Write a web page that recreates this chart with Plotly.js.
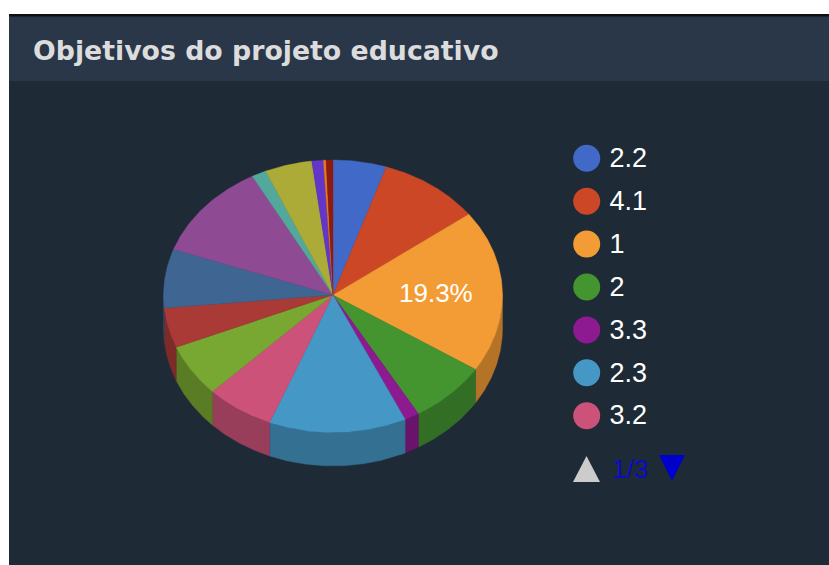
<!DOCTYPE html>
<html>
<head>
<meta charset="utf-8">
<script src="https://cdn.plot.ly/plotly-3.0.0.min.js"></script>
<style>html,body{margin:0;padding:0;background:#fff;overflow:hidden}#chart{width:829px;height:565px}</style>
</head>
<body>
<div id="chart"></div>
<script>
var chartTitle = "Objetivos do projeto educativo";
var sliceNames = ["2.2","4.1","1","2","3.3","2.3","3.2","s8","s9","s10","s11","s12","s13","s14","s15","s16"];
var sliceValues = [5.1,9.7,19.3,7.5,1.4,13.1,6.5,6.2,4.7,7.0,11.6,1.4,4.5,1.1,0.25,0.65];
var sliceColors = ["#4169c7","#cc4726","#f39c35","#449530","#8e1a92","#4598c5","#cd5279","#78a832","#a93a36","#3f6592","#8f4a94","#53a89c","#adab38","#6335c8","#e77a1f","#8e1a10"];
var legendLabels = ["2.2","4.1","1","2","3.3","2.3","3.2"];
var pageText = "1/3";

var cx = 333, cy = 295, rx = 169.5, ryBack = 135, ryFront = 137.5, depth = 33.5;
var total = sliceValues.reduce(function(a,b){return a+b;},0);

function px(t){return cx + rx*Math.sin(t*Math.PI/180);}
function py(t){var c=Math.cos(t*Math.PI/180);return cy - (c>0?ryBack:ryFront)*c;}
function arc(a,b){var o=[],n=Math.max(2,Math.ceil((b-a)*2));for(var i=0;i<=n;i++){o.push(a+(b-a)*i/n);}return o;}
function shade(hex,f){
  var n=parseInt(hex.slice(1),16);
  return "rgb("+Math.round((n>>16&255)*f)+","+Math.round((n>>8&255)*f)+","+Math.round((n&255)*f)+")";
}

var sides=[], tops=[], acc=0;
sliceValues.forEach(function(v,i){
  var a=acc/total*360, b=(acc+v)/total*360; acc+=v;
  var t=arc(a,b), xs=[cx], ys=[cy];
  t.forEach(function(d){xs.push(px(d));ys.push(py(d));});
  xs.push(cx);ys.push(cy);
  tops.push({type:"scatter",mode:"lines",x:xs,y:ys,fill:"toself",fillcolor:sliceColors[i],
    line:{color:sliceColors[i],width:0.4},name:sliceNames[i],hoverinfo:"name",showlegend:false});
  var sa=Math.max(a,90), sb=Math.min(b,270);
  if(sb>sa){
    var st=arc(sa,sb), sx=[], sy=[];
    st.forEach(function(d){sx.push(px(d));sy.push(py(d));});
    st.slice().reverse().forEach(function(d){sx.push(px(d));sy.push(py(d)+depth);});
    sx.push(sx[0]);sy.push(sy[0]);
    var c=shade(sliceColors[i],0.74);
    sides.push({type:"scatter",mode:"lines",x:sx,y:sy,fill:"toself",fillcolor:c,
      line:{color:c,width:0.4},hoverinfo:"skip",showlegend:false});
  }
});

var legX=586.7, legTextX=609.5, legY0=158.3, legStep=42.9, legTextDy=2;
var legendMarkers={type:"scatter",mode:"markers",
  x:legendLabels.map(function(){return legX;}),
  y:legendLabels.map(function(_,i){return legY0+i*legStep;}),
  marker:{size:27,color:sliceColors.slice(0,legendLabels.length),line:{width:0}},
  hoverinfo:"skip",showlegend:false};
var legendText={type:"scatter",mode:"text",
  x:legendLabels.map(function(){return legTextX;}),
  y:legendLabels.map(function(_,i){return legY0+legTextDy+i*legStep;}),
  text:legendLabels,textposition:"middle right",
  textfont:{family:"Liberation Sans, Arial, sans-serif",size:27,color:"#ffffff"},
  hoverinfo:"skip",showlegend:false};

var layout={
  width:829,height:565,margin:{l:0,r:0,t:0,b:0},showlegend:false,
  paper_bgcolor:"#ffffff",plot_bgcolor:"rgba(0,0,0,0)",
  title:{text:chartTitle,x:33/829,xanchor:"left",y:1-51/565,yanchor:"middle",
    font:{family:"DejaVu Sans, sans-serif",size:26.75,color:"#dcdcdc",weight:"bold"}},
  xaxis:{range:[0,829],visible:false,fixedrange:true},
  yaxis:{range:[565,0],visible:false,fixedrange:true},
  shapes:[
    {type:"rect",layer:"below",xref:"x",yref:"y",x0:9,x1:829,y0:14,y1:565,line:{width:0},fillcolor:"#1e2a36"},
    {type:"rect",layer:"below",xref:"x",yref:"y",x0:9,x1:829,y0:16,y1:81,line:{width:0},fillcolor:"#2a3749"},
    {type:"rect",layer:"below",xref:"x",yref:"y",x0:9,x1:829,y0:14,y1:16.5,line:{width:0},fillcolor:"#0c0f14"},
    {type:"path",layer:"above",xref:"x",yref:"y",path:"M573,482 L600,482 L586.5,456 Z",line:{width:0},fillcolor:"#cccccc"},
    {type:"path",layer:"above",xref:"x",yref:"y",path:"M659,455 L685,455 L672,481 Z",line:{width:0},fillcolor:"#0000cc"}
  ],
  annotations:[
    {xref:"x",yref:"y",x:435.5,y:293,text:"19.3%",showarrow:false,xanchor:"center",yanchor:"middle",
     font:{family:"Liberation Sans, Arial, sans-serif",size:26,color:"#ffffff"}},
    {xref:"x",yref:"y",x:630,y:469,text:pageText,showarrow:false,xanchor:"center",yanchor:"middle",
     font:{family:"Liberation Sans, Arial, sans-serif",size:26,color:"#0a0ac8"}}
  ]
};
Plotly.newPlot("chart",sides.concat(tops,[legendMarkers,legendText]),layout,{displayModeBar:false,staticPlot:true});
</script>
</body>
</html>
